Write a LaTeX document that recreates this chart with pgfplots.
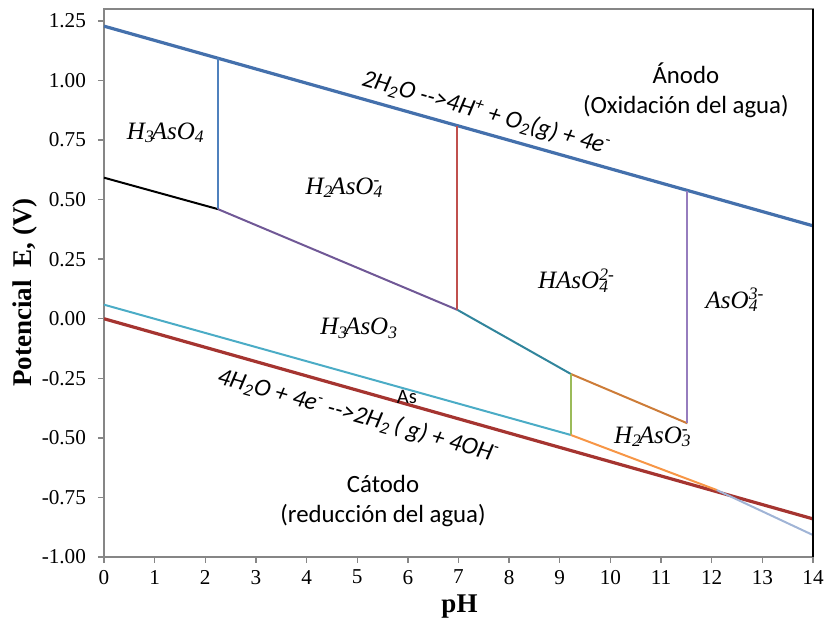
\documentclass[border=0pt]{standalone}
\usepackage{fontspec}
\setmainfont{Liberation Serif}
\newfontfamily\calfont{Carlito}
\usepackage{pgfplots}
\pgfplotsset{compat=1.18}
\definecolor{gridgrey}{RGB}{134,134,134}
\definecolor{oxblue}{RGB}{68,112,172}
\definecolor{redox}{RGB}{165,52,48}
\definecolor{vblue}{RGB}{79,129,189}
\definecolor{purp}{RGB}{112,88,150}
\definecolor{vred}{RGB}{192,80,77}
\definecolor{tealc}{RGB}{49,133,156}
\definecolor{brorange}{RGB}{205,124,56}
\definecolor{lpurp}{RGB}{150,125,190}
\definecolor{cyanl}{RGB}{75,172,198}
\definecolor{greenl}{RGB}{155,187,89}
\definecolor{orangel}{RGB}{247,150,70}
\definecolor{lbg}{RGB}{160,180,214}
\newcommand{\spec}{\fontsize{12.5}{14}\selectfont\itshape}
\newcommand{\sans}{\calfont\fontsize{12.4}{15}\selectfont}
\begin{document}
\begin{tikzpicture}
\begin{axis}[
  at={(0,0)}, anchor=south west,
  scale only axis, width=354.5pt, height=274pt,
  xmin=0, xmax=14, ymin=-1, ymax=1.30,
  xtick={0,1,2,3,4,5,6,7,8,9,10,11,12,13,14},
  ytick={-1,-0.75,-0.5,-0.25,0,0.25,0.5,0.75,1,1.25},
  yticklabels={-1.00,-0.75,-0.50,-0.25,0.00,0.25,0.50,0.75,1.00,1.25},
  tick pos=left, tick align=outside, major tick length=3pt,
  axis line style={gridgrey, line width=0.7pt},
  tick style={gridgrey, line width=0.7pt},
  ticklabel style={font=\fontsize{10.6}{12}\selectfont},
  yticklabel style={xshift=-2.5pt},
  /pgf/number format/assume math mode=true,
]
% water lines
\addplot[oxblue, line width=1.6pt] coordinates {(0,1.228) (14,0.39)};
\addplot[redox, line width=1.6pt] coordinates {(0,0) (14,-0.84)};
% arsenate boundaries
\addplot[black, line width=1pt] coordinates {(0,0.592) (2.25,0.46)};
\addplot[vblue, line width=1pt] coordinates {(2.25,0.46) (2.25,1.093)};
\addplot[purp, line width=1pt] coordinates {(2.25,0.46) (6.98,0.037)};
\addplot[vred, line width=1pt] coordinates {(6.98,0.037) (6.98,0.809)};
\addplot[tealc, line width=1pt] coordinates {(6.98,0.037) (9.22,-0.232)};
\addplot[brorange, line width=1pt] coordinates {(9.22,-0.232) (11.52,-0.439)};
\addplot[lpurp, line width=1pt] coordinates {(11.52,-0.439) (11.52,0.538)};
% arsenite / As
\addplot[cyanl, line width=1pt] coordinates {(0,0.059) (9.22,-0.488)};
\addplot[greenl, line width=1pt] coordinates {(9.22,-0.488) (9.22,-0.232)};
\addplot[orangel, line width=1pt] coordinates {(9.22,-0.488) (12.1,-0.719)};
\addplot[lbg, line width=1pt] coordinates {(12.1,-0.719) (14,-0.908)};
% species labels
\node[font=\spec] at (axis cs:1.22,0.78) {H\textsubscript{3}\kern-0.12em AsO\textsubscript{4}};
\node[font=\spec] at (axis cs:4.72,0.55) {H\textsubscript{2}\kern-0.12em AsO\rlap{\textsubscript{4}}\textsuperscript{-}};
\node[font=\spec] at (axis cs:9.33,0.16) {HAsO\rlap{\textsubscript{4}}\textsuperscript{2-}};
\node[font=\spec] at (axis cs:12.46,0.08) {AsO\rlap{\textsubscript{4}}\textsuperscript{3-}};
\node[font=\spec] at (axis cs:5.04,-0.04) {H\textsubscript{3}\kern-0.12em AsO\textsubscript{3}};
\node[font=\spec] at (axis cs:10.81,-0.495) {H\textsubscript{2}\kern-0.12em AsO\rlap{\textsubscript{3}}\textsuperscript{-}};
\node[font=\calfont\fontsize{10.3}{12}\selectfont] at (axis cs:5.98,-0.33) {As};
\node[font=\sans, align=center] at (axis cs:11.49,0.96) {Ánodo\\(Oxidación del agua)};
\node[font=\sans, align=center] at (axis cs:5.51,-0.763) {Cátodo\\(reducción del agua)};
\node[font=\sans\itshape, rotate=-15.7] at (axis cs:7.55,0.862) {2H\textsubscript{2}O -->4H\textsuperscript{+} + O\textsubscript{2}(g) + 4e\textsuperscript{-}};
\node[font=\sans\itshape, rotate=-15.7] at (axis cs:5.02,-0.408) {4H\textsubscript{2}O + 4e\textsuperscript{-} -->2H\textsubscript{2}\,( g) + 4OH\textsuperscript{-}};
\end{axis}
\draw[black, line width=0.7pt] (354.5pt,0pt) -- (354.5pt,274pt);
\node[font=\bfseries\fontsize{13.5}{16}\selectfont] at (177.75pt,-25pt) {pH};
\node[font=\bfseries\fontsize{13.5}{16}\selectfont, rotate=90] at (-39.5pt,132.25pt) {Potencial\ \ E, (V)};
\pgfresetboundingbox
\path[use as bounding box] (-52pt,-31.5pt) rectangle (360.5pt,278.5pt);
\end{tikzpicture}
\end{document}
